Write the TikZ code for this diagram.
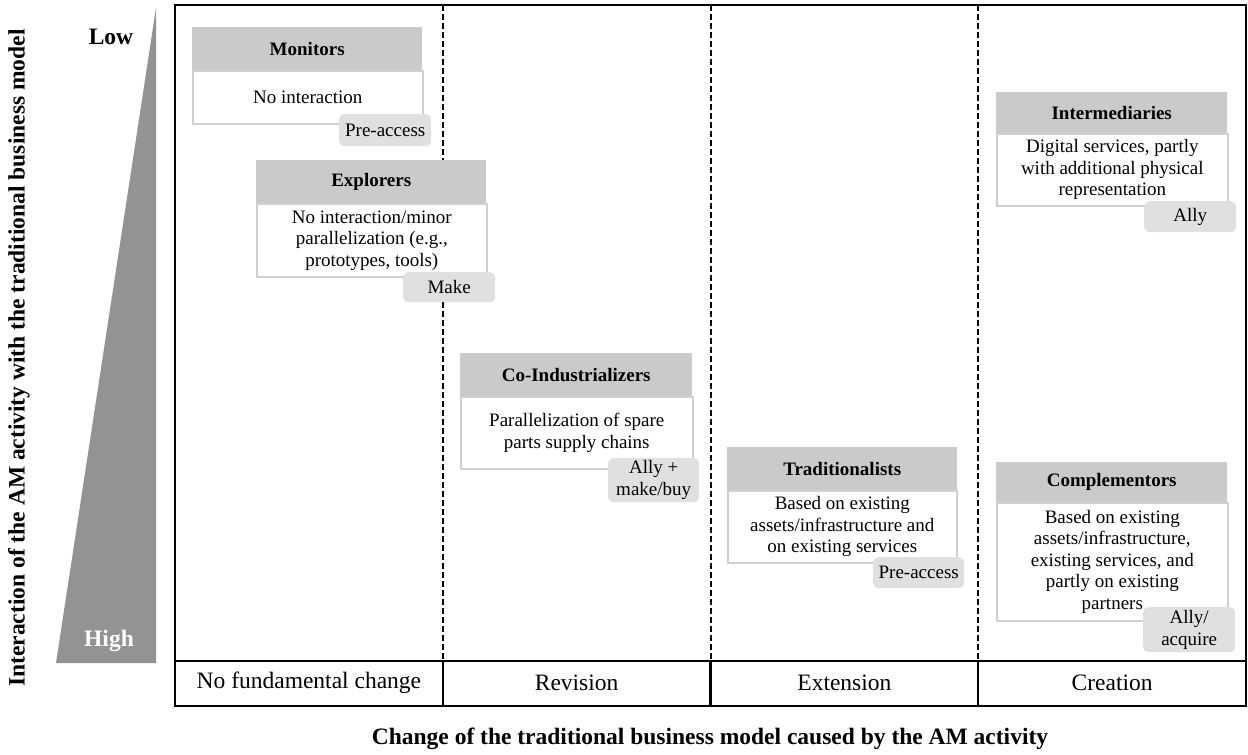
\documentclass[tikz,border=0pt]{standalone}
\usepackage{fontspec}
\setmainfont{Liberation Serif}
\definecolor{headgray}{RGB}{202,202,202}
\definecolor{taggray}{RGB}{224,224,224}
\definecolor{edgegray}{RGB}{208,208,208}
\definecolor{wedgegray}{RGB}{147,147,147}
\newcommand{\cardfont}{\fontsize{19}{21.5}\selectfont}
\newcommand{\axisfont}{\fontsize{23.5}{26}\selectfont}
\tikzset{
  cardhead/.style={fill=headgray, inner sep=0pt, anchor=north west,
    font=\cardfont\bfseries},
  cardbody/.style={draw=edgegray, line width=1.6pt, fill=white, inner sep=0pt,
    anchor=north west, align=center, font=\cardfont},
  cardtag/.style={fill=taggray, rounded corners=5pt, inner sep=0pt,
    anchor=north west, align=center, font=\cardfont},
  frame/.style={line width=2.2pt, black},
  divider/.style={line width=2pt, dash pattern=on 6pt off 3pt},
  collabel/.style={font=\axisfont},
  axistitle/.style={font=\axisfont\bfseries}
}
\begin{document}
\begin{tikzpicture}[x=1pt,y=-1pt]
\path[use as bounding box] (0,0) rectangle (1248,755);

% interaction wedge
\fill[wedgegray] (156,8) -- (156,663) -- (56,663) -- cycle;
\node[font=\axisfont\bfseries] (low) at (111,37) {Low};
\node[font=\axisfont\bfseries, text=white] (high) at (109,641) {High};
\node[axistitle, rotate=90] (ytitle) at (19,358)
  {Interaction of the AM activity with the traditional business model};

% column dividers
\foreach \xx in {442.75,710.5,978.25} {
  \draw[divider] (\xx,5) -- (\xx,661);
  \draw[frame] (\xx,661) -- (\xx,706);
}
\draw[frame] (175,661) -- (1246,661);
\draw[frame] (175,5) rectangle (1246,706);

\node[collabel] (c1) at (308.9,683) {No fundamental change};
\node[collabel] (c2) at (576.6,683) {Revision};
\node[collabel] (c3) at (844.4,683) {Extension};
\node[collabel] (c4) at (1112.1,683) {Creation};
\node[axistitle] (xtitle) at (710,739)
  {Change of the traditional business model caused by the AM activity};

% Monitors
\node[cardbody, minimum width=230pt, minimum height=53pt] (mon-b) at (192,70)
  {No interaction};
\node[cardhead, minimum width=230pt, minimum height=43pt] (mon-h) at (192,27)
  {Monitors};
\node[cardtag, minimum width=92pt, minimum height=32pt] (mon-t) at (339,114)
  {Pre-access};

% Explorers
\node[cardbody, minimum width=230pt, minimum height=73pt] (exp-b) at (256,203)
  {No interaction/minor\\parallelization (e.g.,\\prototypes, tools)};
\node[cardhead, minimum width=230pt, minimum height=43pt] (exp-h) at (256,160)
  {Explorers};
\node[cardtag, minimum width=92pt, minimum height=30pt] (exp-t) at (403,272)
  {Make};

% Co-Industrializers
\node[cardbody, minimum width=232pt, minimum height=72pt] (coi-b) at (460,396)
  {Parallelization of spare\\parts supply chains};
\node[cardhead, minimum width=232pt, minimum height=43pt] (coi-h) at (460,353)
  {Co-Industrializers};
\node[cardtag, minimum width=91pt, minimum height=44pt] (coi-t) at (608,458)
  {Ally +\\make/buy};

% Traditionalists
\node[cardbody, minimum width=229pt, minimum height=72pt] (tra-b) at (727,490)
  {Based on existing\\assets/infrastructure and\\on existing services};
\node[cardhead, minimum width=230pt, minimum height=43pt] (tra-h) at (727,447)
  {Traditionalists};
\node[cardtag, minimum width=91pt, minimum height=31pt] (tra-t) at (873,557)
  {Pre-access};

% Intermediaries
\node[cardbody, minimum width=231pt, minimum height=72pt] (int-b) at (996,133)
  {Digital services, partly\\with additional physical\\representation};
\node[cardhead, minimum width=231pt, minimum height=41pt] (int-h) at (996,92)
  {Intermediaries};
\node[cardtag, minimum width=92pt, minimum height=31pt] (int-t) at (1144,201)
  {Ally};

% Complementors
\node[cardbody, minimum width=231pt, minimum height=118pt] (com-b) at (996,502)
  {Based on existing\\assets/infrastructure,\\existing services, and\\partly on existing\\partners};
\node[cardhead, minimum width=231pt, minimum height=40pt] (com-h) at (996,462)
  {Complementors};
\node[cardtag, minimum width=92pt, minimum height=45pt] (com-t) at (1143,607)
  {Ally/\\acquire};
\end{tikzpicture}
\end{document}
